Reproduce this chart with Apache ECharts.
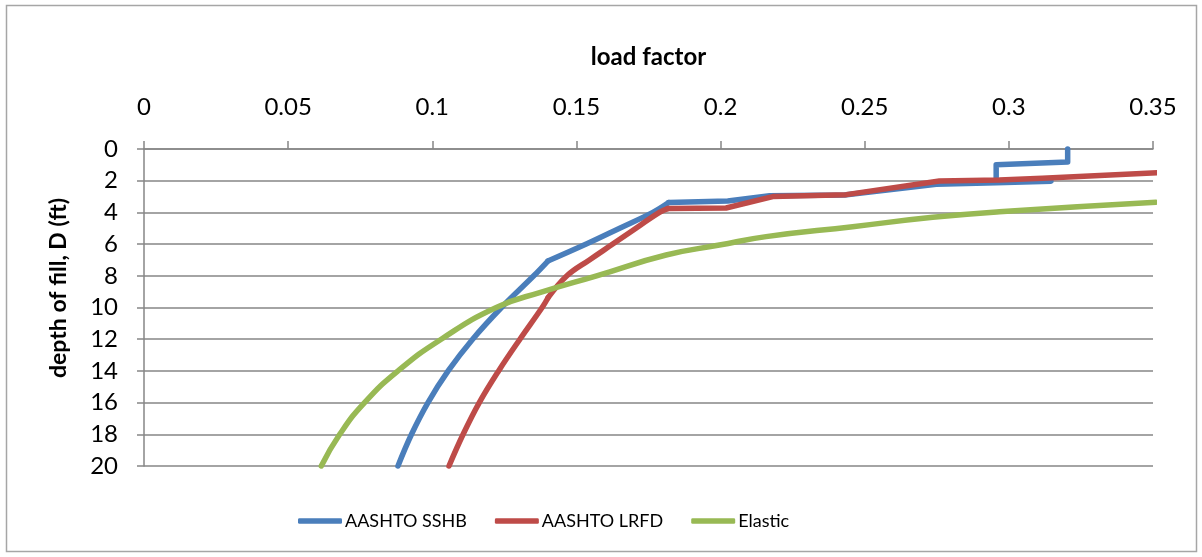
<!DOCTYPE html>
<html>
<head>
<meta charset="utf-8">
<script src="https://cdn.jsdelivr.net/npm/echarts@6/dist/echarts.min.js"></script>
<style>
html,body{margin:0;padding:0;background:#fff;}
#chart{width:1202px;height:557px;}
</style>
</head>
<body>
<div id="chart"></div>
<script>
// Data: [load factor, depth of fill D (ft)]
var seriesNames = ['AASHTO SSHB', 'AASHTO LRFD', 'Elastic'];
var xTicks = [0, 0.05, 0.1, 0.15, 0.2, 0.25, 0.3, 0.35];
var yTicks = [0, 2, 4, 6, 8, 10, 12, 14, 16, 18, 20];

var sshb = [
  [0.0881, 20], [0.0928, 18], [0.0985, 16], [0.1055, 14], [0.1140, 12],
  [0.1240, 10], [0.1352, 8], [0.1401, 7.07], [0.1534, 6], [0.1650, 5],
  [0.1765, 4], [0.1820, 3.38], [0.2025, 3.28], [0.2170, 2.95], [0.2430, 2.90],
  [0.2748, 2.23], [0.2956, 2.13], [0.3146, 2.03], [0.2956, 2.08],
  [0.2956, 1.00], [0.3204, 0.82], [0.3204, 0]
];
var lrfd = [
  [0.1058, 20], [0.1107, 18], [0.1163, 16], [0.1230, 14], [0.1304, 12],
  [0.1381, 10], [0.1401, 9.4], [0.1467, 8], [0.1545, 7], [0.1626, 6],
  [0.1690, 5.2], [0.1788, 4], [0.1817, 3.76], [0.2019, 3.72], [0.2181, 3.0],
  [0.2436, 2.88], [0.2759, 2.02], [0.2967, 1.96], [0.3116, 1.85], [0.3518, 1.49]
];
var elastic = [
  [0.0615, 20], [0.0679, 18], [0.0765, 16], [0.0881, 14], [0.1031, 12],
  [0.1222, 10], [0.1384, 9], [0.1570, 8], [0.1811, 6.69], [0.1996, 6.06],
  [0.2158, 5.53], [0.2458, 4.90], [0.2736, 4.31], [0.2967, 3.96], [0.3510, 3.36]
];
// indices of the sharp corners in each curve (curved pieces between them)
var sshbCorners = [7, 11];
var lrfdCorners = [6, 12];

var colors = ['#4a7ebb', '#be4b48', '#98b954'];
var FONT = 'Lato, "Open Sans", sans-serif';
var axisGray = '#868686';

var chart = echarts.init(document.getElementById('chart'), null, {renderer: 'canvas'});

function mkSeries(name, data, color, smooth) {
  return {
    name: name, type: 'line', data: data,
    showSymbol: false, symbol: 'none', smooth: smooth, clip: false,
    lineStyle: {color: color, width: 5.5, cap: 'round', join: 'round'},
    itemStyle: {color: color},
    emphasis: {disabled: true}, animation: false
  };
}
function pieces(name, data, corners, color) {
  var out = [];
  var a = 0;
  corners.forEach(function (c) {
    out.push(mkSeries(name, data.slice(a, c + 1), color, 0.4));
    a = c;
  });
  out.push(mkSeries(name, data.slice(a), color, false));
  return out;
}

var series = []
  .concat(pieces(seriesNames[0], sshb, sshbCorners, colors[0]))
  .concat(pieces(seriesNames[1], lrfd, lrfdCorners, colors[1]))
  .concat([mkSeries(seriesNames[2], elastic, colors[2], 0.5)]);

chart.setOption({
  animation: false,
  backgroundColor: '#fff',
  grid: {left: 144, right: 49, top: 149, bottom: 91, containLabel: false},
  xAxis: {
    type: 'value', position: 'top',
    min: xTicks[0], max: xTicks[xTicks.length - 1], interval: 0.05,
    name: 'load factor', nameLocation: 'middle', nameGap: 80,
    nameTextStyle: {fontFamily: FONT, fontSize: 24, fontWeight: 'bold', color: '#000'},
    axisLine: {show: true, lineStyle: {color: axisGray, width: 1.5}},
    axisTick: {show: true, inside: false, length: 8, lineStyle: {color: axisGray, width: 1.5}},
    axisLabel: {fontFamily: FONT, fontSize: 24, color: '#000', margin: 30,
      formatter: function (v) { return String(+v.toFixed(2)); }},
    splitLine: {show: false}
  },
  yAxis: {
    type: 'value', inverse: true,
    min: yTicks[0], max: yTicks[yTicks.length - 1], interval: 2,
    axisLine: {show: true, onZero: false, lineStyle: {color: axisGray, width: 1.5}},
    axisTick: {show: true, inside: false, length: 7, lineStyle: {color: axisGray, width: 1.5}},
    axisLabel: {fontFamily: FONT, fontSize: 24, color: '#000', margin: 26},
    splitLine: {show: true, lineStyle: {color: axisGray, width: 1.5}}
  },
  legend: {
    left: 293, top: 507,
    itemWidth: 44, itemHeight: 5.5, itemGap: 28,
    icon: 'roundRect',
    textStyle: {fontFamily: FONT, fontSize: 18, color: '#000', padding: [0, 0, 0, -2]},
    data: seriesNames
  },
  graphic: [
    {type: 'rect', shape: {x: 6.5, y: 5.5, width: 1190, height: 546},
     style: {fill: 'none', stroke: '#a6a6a6', lineWidth: 1.5}, silent: true},
    {type: 'text', x: 59, y: 288, rotation: Math.PI / 2,
     style: {text: 'depth of fill, D (ft)', fontFamily: FONT, fontSize: 23, fontWeight: 'bold',
       fill: '#000', align: 'center', verticalAlign: 'middle'}}
  ],
  series: series
});
</script>
</body>
</html>
